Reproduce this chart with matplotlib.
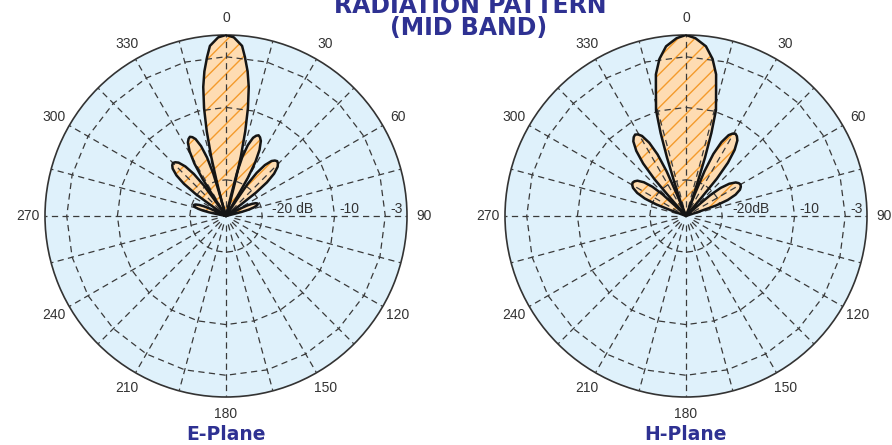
import numpy as np
import matplotlib
matplotlib.use('agg')
import matplotlib.pyplot as plt
from matplotlib.patches import Polygon

# grid / labels
angle_ticks = list(range(0, 360, 15))
ring_db = [-20, -10, -3]
e_ring_labels = ['-20 dB', '-10', '-3']
h_ring_labels = ['-20dB', '-10', '-3']
ring_label_dx = [10, 5, 5]
db_floor = -25

# each lobe: peak direction (deg) and a half outline,
# (angle away from the peak, dB) going from the centre out to the lobe tip
e_peaks = [0, 22, -24.5, 43, -45, 69, -71.5]
e_half_off = [
    [18, 16.5, 15, 14, 12.8, 11.5, 10, 8.5, 6.8, 5.4, 2.5, 0],
    [8.24, 7.79, 6.56, 4.87, 2.91, 1.40, 0],
    [8.24, 7.79, 6.56, 4.87, 2.91, 1.40, 0],
    [9.54, 9.02, 7.59, 5.64, 3.37, 1.63, 0],
    [9.54, 9.02, 7.59, 5.64, 3.37, 1.63, 0],
    [6.7, 6.28, 5.28, 3.92, 2.34, 1.13, 0],
    [6.7, 6.28, 5.28, 3.92, 2.34, 1.13, 0],
]
e_half_db = [
    [-25, -23, -20, -16.5, -13, -9.8, -6.9, -4.8, -2.9, -1.4, -0.3, 0],
    [-21.96, -18.94, -16.53, -14.75, -13.57, -13.16, -12.98],
    [-21.96, -18.94, -16.53, -14.75, -13.57, -13.16, -12.98],
    [-22.38, -19.76, -17.69, -16.15, -15.14, -14.79, -14.64],
    [-22.38, -19.76, -17.69, -16.15, -15.14, -14.79, -14.64],
    [-23.82, -22.64, -21.70, -21.0, -20.53, -20.37, -20.30],
    [-23.82, -22.64, -21.70, -21.0, -20.53, -20.37, -20.30],
]

h_peaks = [0, 31, -32, 60, -58]
h_half_off = [
    [24, 21, 19, 18, 17, 15.8, 13.5, 12, 9.6, 6.7, 3, 0],
    [9.07, 8.57, 7.21, 5.36, 3.2, 1.54, 0],
    [9.07, 8.57, 7.21, 5.36, 3.2, 1.54, 0],
    [11.31, 10.7, 9.02, 6.71, 4.01, 1.94, 0],
    [11.31, 10.7, 9.02, 6.71, 4.01, 1.94, 0],
]
h_half_db = [
    [-25, -23, -20, -16.5, -13, -9.8, -7.2, -5, -3, -1.4, -0.4, 0],
    [-21.64, -18.30, -15.64, -13.68, -12.38, -11.93, -11.74],
    [-21.64, -18.30, -15.64, -13.68, -12.38, -11.93, -11.74],
    [-22.78, -20.57, -18.83, -17.55, -16.71, -16.42, -16.30],
    [-22.78, -20.57, -18.83, -17.55, -16.71, -16.42, -16.30],
]

navy = '#2e3192'
bg = '#dff1fb'
lobe_fill = '#fedcb2'
hatch_col = '#f49b2c'
grid_col = '#3a3a3a'

plt.rcParams['hatch.linewidth'] = 1.0
plt.rcParams['hatch.color'] = hatch_col
plt.rcParams['font.family'] = ['Liberation Sans', 'DejaVu Sans']


def lobe_outline(peak, off, db):
    # mirror the traced half about the peak direction, closed at the centre
    off = np.asarray(off, float)
    db = np.asarray(db, float)
    ang = np.concatenate([[peak], peak - off, peak + off[-2::-1], [peak]])
    rr = np.concatenate([[db_floor], db, db[-2::-1], [db_floor]])
    return np.column_stack([np.deg2rad(ang), rr])


def draw_plane(ax, peaks, half_off, half_db, ring_labels, name, cx):
    ax.set_theta_zero_location('N')
    ax.set_theta_direction(-1)
    ax.set_facecolor(bg)
    ax.grid(False)

    outlines = [lobe_outline(p, o, d) for p, o, d in zip(peaks, half_off, half_db)]
    # fill + hatch below the grid, black outline above it
    for verts in outlines:
        ax.add_patch(Polygon(verts, closed=True, facecolor=lobe_fill, edgecolor=hatch_col,
                             hatch='//', linewidth=0, zorder=2))
    for verts in outlines:
        ax.add_patch(Polygon(verts, closed=True, fill=False, edgecolor='#151515',
                             linewidth=1.8, joinstyle='round', zorder=4))

    # polygon rings and radial spokes, dashed
    th = np.deg2rad(angle_ticks)
    for r in ring_db:
        ring = np.column_stack([th, np.full(len(th), r)])
        ax.add_patch(Polygon(ring, closed=True, fill=False, edgecolor=grid_col,
                             linewidth=0.9, linestyle=(0, (5, 3.5)), zorder=3))
    for t in th:
        ax.plot([t, t], [db_floor + 1.2, 0], color=grid_col, lw=0.9,
                ls=(0, (5, 3.5)), zorder=3)

    for r, lab, dx in zip(ring_db, ring_labels, ring_label_dx):
        ax.annotate(lab, xy=(np.pi / 2, r), xytext=(dx * 0.72, 2.5), textcoords='offset points',
                    ha='left', va='baseline', fontsize=10, color='#333333', zorder=5)

    ax.set_xticks(th)
    ax.set_xticklabels([str(a) if a % 30 == 0 else '' for a in angle_ticks])
    ax.tick_params(axis='x', direction='inout', length=7, width=0.9, color='#333333',
                   labelsize=10, labelcolor='#333333', pad=2)
    ax.set_yticks([])
    ax.set_xlim(0, 2 * np.pi)
    ax.set_ylim(db_floor, 0)
    ax.spines['polar'].set_linewidth(1.2)
    ax.spines['polar'].set_color('#333333')

    fig.text(cx, 1 - 435 / 445, name, ha='center', va='center', fontsize=13.5,
             fontweight='bold', color=navy, family='DejaVu Sans')


fig = plt.figure(figsize=(8.92, 4.45), dpi=100)
ax1 = fig.add_axes([45 / 892, 48 / 445, 362 / 892, 362 / 445], projection='polar')
ax2 = fig.add_axes([505 / 892, 48 / 445, 362 / 892, 362 / 445], projection='polar')

draw_plane(ax1, e_peaks, e_half_off, e_half_db, e_ring_labels, 'E-Plane', 226 / 892)
draw_plane(ax2, h_peaks, h_half_off, h_half_db, h_ring_labels, 'H-Plane', 686 / 892)

fig.text(0.527, 1 - 13 / 445, 'RADIATION PATTERN', ha='center', va='baseline', fontsize=17,
         fontweight='bold', color=navy, family='DejaVu Sans')
fig.text(0.525, 1 - 35 / 445, '(MID BAND)', ha='center', va='baseline', fontsize=17,
         fontweight='bold', color=navy, family='DejaVu Sans')

fig.savefig('out.png', dpi=100)
